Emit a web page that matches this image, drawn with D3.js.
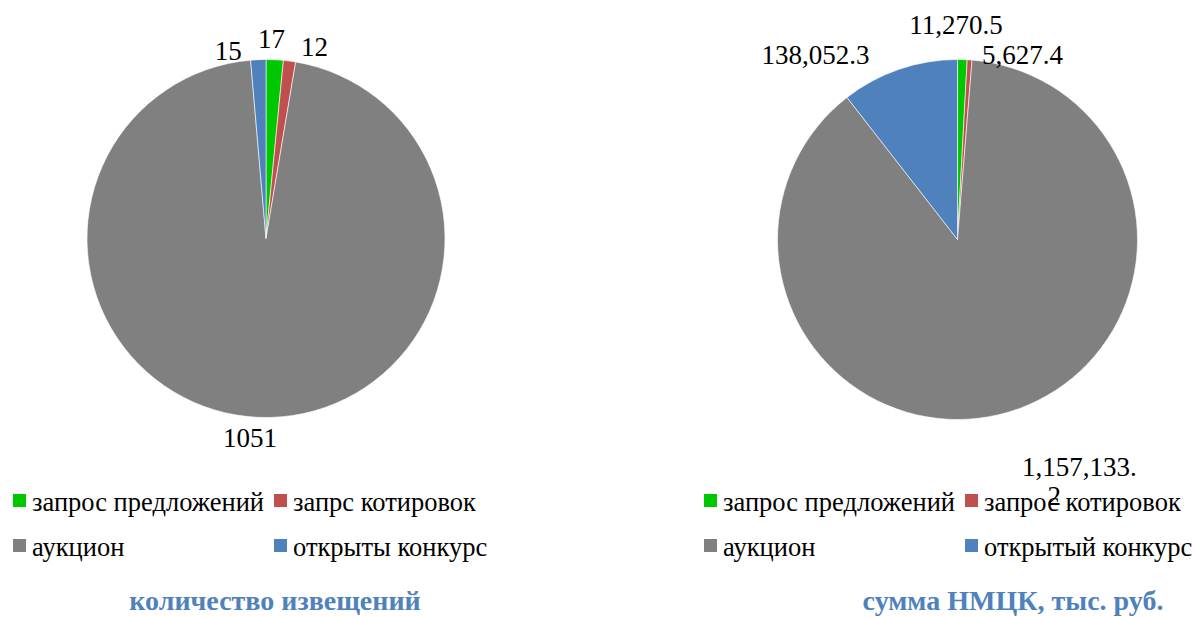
<!DOCTYPE html>
<html>
<head>
<meta charset="utf-8">
<script src="https://cdn.jsdelivr.net/npm/d3@7"></script>
<style>
  html, body { margin: 0; padding: 0; background: #fff; }
  svg { display: block; }
</style>
</head>
<body>
<div id="chart"></div>
<script>
// Data
const countCategories = ['запрос предложений', 'запрс котировок', 'аукцион', 'открыты конкурс'];
const countValues = [17, 12, 1051, 15];

const sumCategories = ['запрос предложений', 'запрос котировок', 'аукцион', 'открытый конкурс'];
const sumValues = [11270.5, 5627.4, 1157133.2, 138052.3];

const titles = ['количество извещений', 'сумма НМЦК, тыс. руб.'];

const SLICE_COLORS = ['#00C800', '#C0504D', '#808080', '#4F81BD'];

// Layout
const WIDTH = 1197;
const HEIGHT = 617;
const FONT = 'Liberation Serif';

// label tweaks: [angle shift in degrees, distance beyond the rim]
const LABEL_NUDGE = [
  [[-1.2, 21], [6.6, 19], [2.3, 20.6], [-8.9, 12.8]],
  [[-1.95, 34.5], [15.5, 16], [-11.6, 77.5], [-18.6, 53]]
];

const PIES = [
  {
    categories: countCategories,
    values: countValues,
    title: titles[0],
    cx: 266, cy: 238.5, r: 179,
    legendX: 13, legendY: 511,
    titleX: 275,
    format: d3.format('d'),
    nudge: LABEL_NUDGE[0]
  },
  {
    categories: sumCategories,
    values: sumValues,
    title: titles[1],
    cx: 957.5, cy: 239.5, r: 180,
    legendX: 704, legendY: 511,
    titleX: 1013,
    format: d3.format(',.1f'),
    nudge: LABEL_NUDGE[1],
    wrapWidth: 120
  }
];

const svg = d3.select('#chart')
  .append('svg')
  .attr('width', WIDTH)
  .attr('height', HEIGHT)
  .attr('font-family', FONT);

PIES.forEach(cfg => drawPie(cfg));

function drawPie(cfg) {
  const pie = d3.pie().sort(null).value(d => d);
  const arcs = pie(cfg.values);
  const arc = d3.arc().innerRadius(0).outerRadius(cfg.r);

  const g = svg.append('g')
    .attr('transform', `translate(${cfg.cx},${cfg.cy})`);

  g.selectAll('path.slice')
    .data(arcs)
    .join('path')
    .attr('class', 'slice')
    .attr('d', arc)
    .attr('fill', (d, i) => SLICE_COLORS[i])
    .attr('stroke', '#fff')
    .attr('stroke-width', 0.6);

  // data labels outside the rim
  arcs.forEach((d, i) => {
    const [dAng, dR] = cfg.nudge[i];
    const ang = (d.startAngle + d.endAngle) / 2 + dAng * Math.PI / 180;
    const dist = cfg.r + dR;
    const x = Math.sin(ang) * dist;
    const y = -Math.cos(ang) * dist;
    const full = cfg.format(d.data);

    const label = g.append('text')
      .attr('x', x)
      .attr('y', y)
      .attr('dy', '0.35em')
      .attr('text-anchor', 'middle')
      .attr('font-family', FONT)
      .attr('font-size', '27px')
      .attr('fill', '#000')
      .text(full);

    // wrap long labels like Excel does (char break)
    if (cfg.wrapWidth && label.node().getComputedTextLength() > cfg.wrapWidth) {
      let cut = full.length;
      while (cut > 1 && label.node().getComputedTextLength() > cfg.wrapWidth - 5) {
        cut--;
        label.text(full.slice(0, cut));
      }
      label.text(null);
      label.append('tspan')
        .attr('x', x)
        .text(full.slice(0, cut));
      label.append('tspan')
        .attr('x', x - 25)
        .attr('dy', 29)
        .text(full.slice(cut));
    }
  });

  // legend: two columns, two rows
  const legend = svg.append('g')
    .attr('transform', `translate(${cfg.legendX},${cfg.legendY})`);

  cfg.categories.forEach((name, i) => {
    const col = i % 2;
    const row = Math.floor(i / 2);
    const item = legend.append('g')
      .attr('transform', `translate(${col * 261},${row * 45})`);

    item.append('rect')
      .attr('x', 0)
      .attr('y', -17)
      .attr('width', 13)
      .attr('height', 13)
      .attr('fill', SLICE_COLORS[i]);

    item.append('text')
      .attr('x', 19)
      .attr('y', 0)
      .attr('font-family', FONT)
      .attr('font-size', '26.5px')
      .attr('fill', '#000')
      .text(name);
  });

  svg.append('text')
    .attr('x', cfg.titleX)
    .attr('y', 610)
    .attr('text-anchor', 'middle')
    .attr('font-family', FONT)
    .attr('font-size', '28px')
    .attr('font-weight', 'bold')
    .attr('fill', '#4F81BD')
    .text(cfg.title);
}
</script>
</body>
</html>
